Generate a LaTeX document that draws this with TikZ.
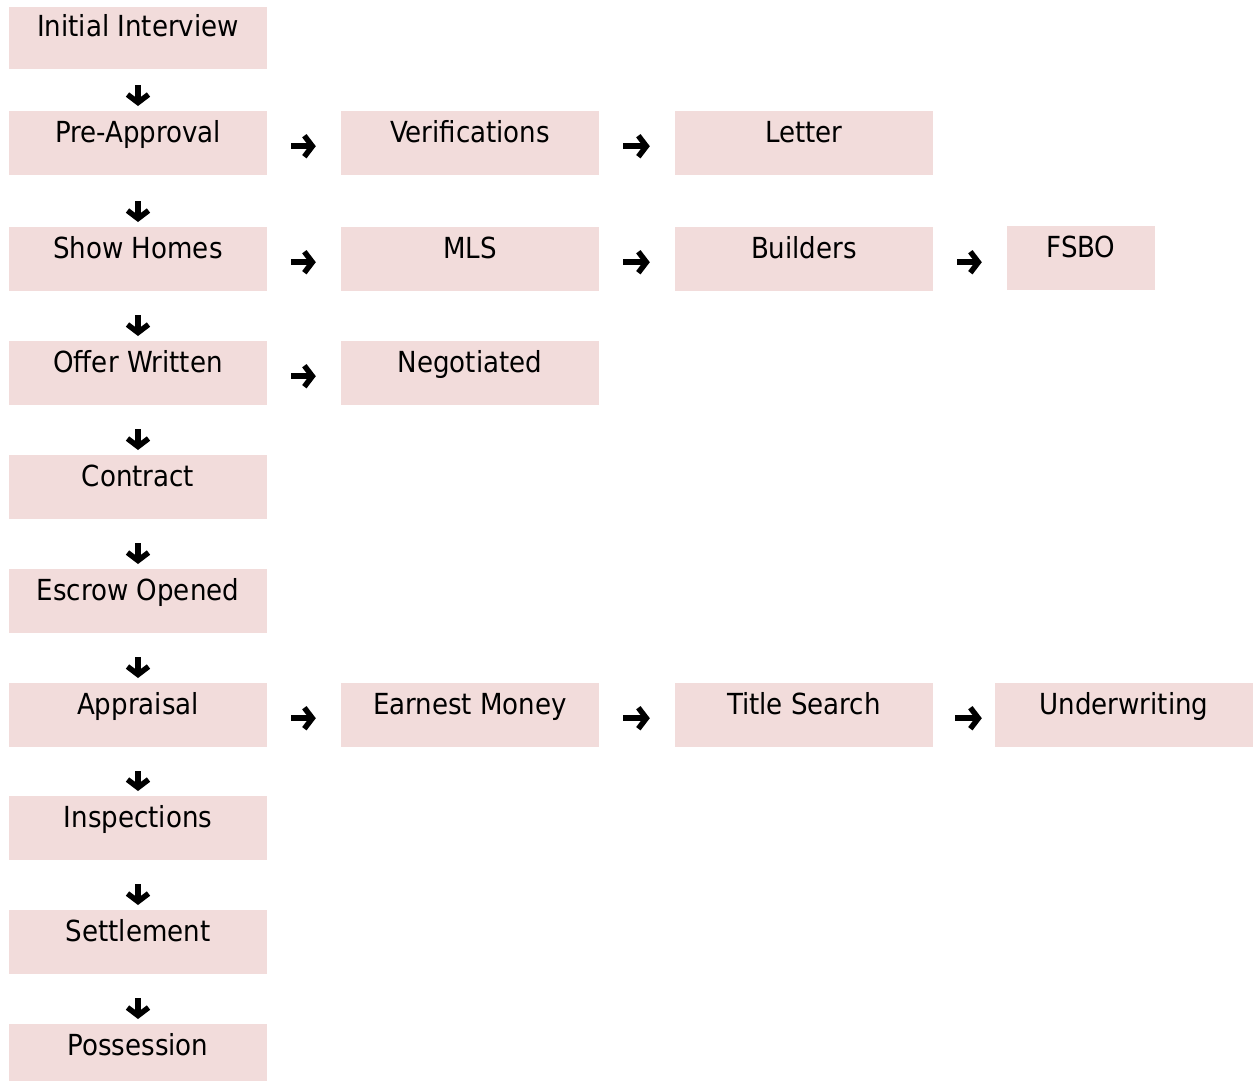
\documentclass[tikz,border=0pt]{standalone}
\usepackage{fontspec}
\setmainfont{DejaVu Sans Condensed}
\usetikzlibrary{arrows.meta}
\definecolor{boxpink}{HTML}{F2DCDB}
\tikzset{
  stepbox/.style={fill=boxpink, draw=none, anchor=north, minimum width=258pt,
    inner xsep=0pt, inner ysep=0pt, text height=31pt, text depth=33pt,
    font=\fontsize{29}{32}\selectfont},
  firstbox/.style={stepbox, text height=29pt, text depth=33pt},
  arrowtip/.style={-{Straight Barb[length=8pt,width=21pt,line width=5.5pt]}},
  darr/.style={line width=6pt, arrowtip, shorten >=5pt, shorten <=24pt},
  rarr/.style={line width=6pt, arrowtip, shorten >=25pt, shorten <=24pt},
}
\begin{document}
\begin{tikzpicture}[x=1pt,y=-1pt]
\useasboundingbox (0,0) rectangle (1256,1080);
\clip (0,0) rectangle (1256,1080);
% column 1
\node[firstbox] (r1) at (138,7) {Initial Interview};
\node[stepbox] (r2) at (138,111) {Pre-Approval};
\node[stepbox] (r3) at (138,227) {Show Homes};
\node[stepbox] (r4) at (138,341) {Offer Written};
\node[stepbox] (r5) at (138,455) {Contract};
\node[stepbox] (r6) at (138,569) {Escrow Opened};
\node[stepbox] (r7) at (138,683) {Appraisal};
\node[stepbox] (r8) at (138,796) {Inspections};
\node[stepbox] (r9) at (138,910) {Settlement};
\node[stepbox] (r10) at (138,1024) {Possession};
% side boxes
\node[stepbox] (ver) at (470,111) {Verifications};
\node[stepbox] (let) at (804,111) {Letter};
\node[stepbox] (mls) at (470,227) {MLS};
\node[stepbox] (bui) at (804,227) {Builders};
\node[stepbox, minimum width=148pt] (fsbo) at (1081,226) {FSBO};
\node[stepbox] (neg) at (470,341) {Negotiated};
\node[stepbox] (ear) at (470,683) {Earnest Money};
\node[stepbox] (tit) at (804,683) {Title Search};
\node[stepbox] (und) at (1124,683) {Underwriting};
% down arrows
\draw[darr, shorten <=16pt] (r1) -- (r2);
\draw[darr, shorten <=26pt] (r2) -- (r3);
\draw[darr] (r3) -- (r4);
\draw[darr] (r4) -- (r5);
\draw[darr] (r5) -- (r6);
\draw[darr] (r6) -- (r7);
\draw[darr] (r7) -- (r8);
\draw[darr] (r8) -- (r9);
\draw[darr] (r9) -- (r10);
% right arrows
\draw[rarr] ([yshift=-3pt]r2.east) -- ([yshift=-3pt]ver.west);
\draw[rarr] ([yshift=-3pt]ver.east) -- ([yshift=-3pt]let.west);
\draw[rarr] ([yshift=-3pt]r3.east) -- ([yshift=-3pt]mls.west);
\draw[rarr] ([yshift=-3pt]mls.east) -- ([yshift=-3pt]bui.west);
\draw[rarr] ([yshift=-3pt]bui.east) -- ([yshift=-3pt]bui.east -| fsbo.west);
\draw[rarr] ([yshift=-3pt]r4.east) -- ([yshift=-3pt]neg.west);
\draw[rarr] ([yshift=-3pt]r7.east) -- ([yshift=-3pt]ear.west);
\draw[rarr] ([yshift=-3pt]ear.east) -- ([yshift=-3pt]tit.west);
\draw[rarr, shorten >=13pt, shorten <=22pt] ([yshift=-3pt]tit.east) -- ([yshift=-3pt]und.west);
\end{tikzpicture}
\end{document}
